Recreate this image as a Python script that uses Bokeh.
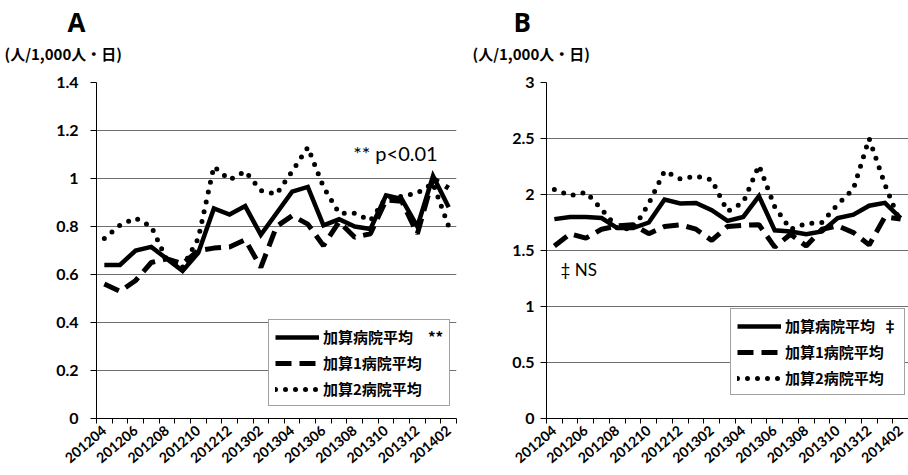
import math
from bokeh.plotting import figure
from bokeh.layouts import row
from bokeh.models import (FixedTicker, PrintfTickFormatter, Legend, LegendItem,
                          Label, Title, Range1d)
from bokeh.embed import file_html
from bokeh.resources import INLINE

# ---------------- data ----------------
months = ["201204", "201205", "201206", "201207", "201208", "201209", "201210",
          "201211", "201212", "201301", "201302", "201303", "201304", "201305",
          "201306", "201307", "201308", "201309", "201310", "201311", "201312",
          "201401", "201402"]
tick_labels = ["201204", "201206", "201208", "201210", "201212", "201302",
               "201304", "201306", "201308", "201310", "201312", "201402"]

series_names = ["加算病院平均", "加算1病院平均", "加算2病院平均"]

# Panel A
a_all = [0.64, 0.64, 0.70, 0.715, 0.665, 0.615, 0.69, 0.875, 0.85, 0.885, 0.765, 0.855,
         0.945, 0.965, 0.805, 0.83, 0.80, 0.79, 0.93, 0.915, 0.80, 1.01, 0.88]
a_k1 = [0.56, 0.53, 0.575, 0.65, 0.665, 0.645, 0.70, 0.71, 0.715, 0.745, 0.63, 0.80,
        0.845, 0.81, 0.72, 0.82, 0.755, 0.77, 0.91, 0.905, 0.77, 1.00, 0.96]
a_k2 = [0.75, 0.805, 0.835, 0.80, 0.66, 0.63, 0.75, 1.05, 0.995, 1.03, 0.95, 0.935,
        1.03, 1.13, 0.965, 0.855, 0.855, 0.825, 0.92, 0.925, 0.94, 0.98, 0.80]
a_yticks = [0, 0.2, 0.4, 0.6, 0.8, 1, 1.2, 1.4]

# Panel B
b_all = [1.78, 1.80, 1.80, 1.79, 1.70, 1.70, 1.75, 1.955, 1.92, 1.925, 1.86, 1.765,
         1.80, 1.985, 1.68, 1.67, 1.645, 1.67, 1.79, 1.82, 1.90, 1.925, 1.79]
b_k1 = [1.54, 1.65, 1.61, 1.69, 1.72, 1.73, 1.65, 1.715, 1.73, 1.69, 1.59, 1.715,
        1.725, 1.73, 1.53, 1.645, 1.54, 1.69, 1.72, 1.66, 1.55, 1.80, 1.78]
b_k2 = [2.045, 1.99, 2.02, 1.87, 1.70, 1.69, 1.92, 2.21, 2.14, 2.165, 2.13, 1.85,
        1.93, 2.26, 1.89, 1.69, 1.74, 1.75, 1.91, 2.05, 2.50, 2.09, 1.74]
b_yticks = [0, 0.5, 1, 1.5, 2, 2.5, 3]

CJK = "Noto Sans CJK JP"
NUM = "Lato"


def panel(letter, letter_off, width, bl, br, ymax, yticks, ys, label_std,
          legend_labels, legend_loc, note, note_x, note_y, note_size, unit_off):
    x = list(range(len(months)))
    p = figure(width=width, height=475, x_range=Range1d(-0.5, len(months) - 0.5),
               y_range=Range1d(0, ymax), output_backend="svg", toolbar_location=None,
               title=None, min_border_left=bl, min_border_right=br,
               min_border_top=82, min_border_bottom=57)
    p.outline_line_color = None
    p.background_fill_color = "white"
    p.border_fill_color = "white"

    yt = FixedTicker(ticks=yticks)
    p.yaxis.ticker = yt
    p.ygrid.ticker = yt
    p.yaxis.formatter = PrintfTickFormatter(format="%g")
    p.yaxis.major_tick_out = 6
    p.yaxis.major_tick_in = 0
    p.yaxis.minor_tick_line_color = None
    p.yaxis.axis_line_color = "black"
    p.yaxis.major_tick_line_color = "black"
    p.yaxis.major_label_text_font = NUM
    p.yaxis.major_label_text_font_style = "bold"
    p.yaxis.major_label_text_font_size = "16px"
    p.yaxis.major_label_text_color = "black"
    p.yaxis.major_label_standoff = label_std
    p.ygrid.grid_line_color = "#6e6e6e"
    p.ygrid.grid_line_width = 1
    p.xgrid.visible = False

    xt = FixedTicker(ticks=[months.index(t) for t in tick_labels],
                     minor_ticks=[i - 0.5 for i in range(len(months) + 1)])
    p.xaxis.ticker = xt
    p.xaxis.major_label_overrides = {months.index(t): t for t in tick_labels}
    p.xaxis.major_tick_line_color = None
    p.xaxis.major_tick_out = 0
    p.xaxis.major_tick_in = 0
    p.xaxis.minor_tick_out = 5
    p.xaxis.minor_tick_in = 0
    p.xaxis.minor_tick_line_color = "black"
    p.xaxis.axis_line_color = "black"
    p.xaxis.major_label_orientation = 0.70
    p.xaxis.major_label_standoff = 5
    p.xaxis.major_label_text_font = NUM
    p.xaxis.major_label_text_font_style = "bold"
    p.xaxis.major_label_text_font_size = "14px"
    p.xaxis.major_label_text_color = "black"

    r_all = p.line(x, ys[0], line_color="black", line_width=4.5, line_join="miter")
    r_k1 = p.line(x, ys[1], line_color="black", line_width=5, line_dash="16 8")
    r_k2 = p.line(x, ys[2], line_color="black", line_width=5, line_dash="0 10",
                  line_cap="round")

    legend = Legend(items=[LegendItem(label=legend_labels[0], renderers=[r_all]),
                           LegendItem(label=legend_labels[1], renderers=[r_k1]),
                           LegendItem(label=legend_labels[2], renderers=[r_k2])],
                    location=legend_loc, glyph_width=44, glyph_height=20,
                    label_height=20, label_standoff=4, padding=6, spacing=5,
                    margin=0, label_text_font=CJK, label_text_font_style="bold",
                    label_text_font_size="15px", label_text_color="black",
                    border_line_color="#444444", border_line_width=1,
                    background_fill_color="white", background_fill_alpha=1)
    p.add_layout(legend)

    p.add_layout(Label(x=note_x, y=note_y, text=note, text_font=NUM,
                       text_font_size=note_size, text_color="black",
                       text_baseline="alphabetic"))

    # unit caption (closest to the frame), then the panel letter above it
    p.add_layout(Title(text="(人/1,000人・日)", align="left", offset=unit_off,
                       text_font=CJK, text_font_size="15px", text_font_style="bold",
                       text_color="black", standoff=38), "above")
    p.add_layout(Title(text=letter, align="left", offset=letter_off,
                       text_font="Open Sans", text_font_size="26px",
                       text_font_style="bold", text_color="black",
                       standoff=-36), "above")
    return p


pA = panel("A", 67 - 96, 460, 96, 4, 1.4, a_yticks, [a_all, a_k1, a_k2], 12,
           [series_names[0] + "\u3000**", series_names[1], series_names[2]],
           (172, 12), "** p<0.01", 15.9, 1.105, "20px", -92)
pB = panel("B", 513 - 546, 448, 86, 0, 3, b_yticks, [b_all, b_k1, b_k2], 6,
           [series_names[0] + "\u2002‡", series_names[1], series_names[2]],
           (184, 23), "‡ NS", 0.39, 1.33, "17px", -74)

layout = row(pA, pB)
open("out.html", "w").write(file_html(layout, INLINE))
